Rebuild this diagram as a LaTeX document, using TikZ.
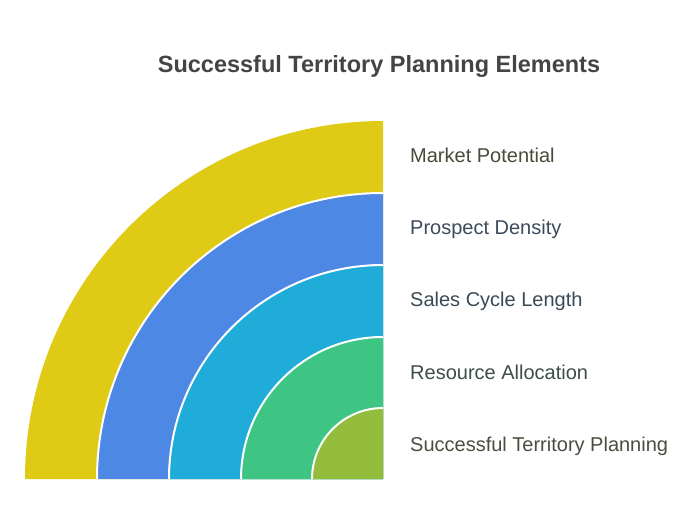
\documentclass[tikz,border=0pt]{standalone}
\usepackage{fontspec}
\setmainfont{Liberation Sans}
\usetikzlibrary{calc}
\definecolor{cYellow}{HTML}{DFCB16}
\definecolor{cBlue}{HTML}{4E88E5}
\definecolor{cCyan}{HTML}{1FACD9}
\definecolor{cGreen}{HTML}{3EC584}
\definecolor{cOlive}{HTML}{93BD3A}
\definecolor{tTitle}{HTML}{444444}
\definecolor{tA}{HTML}{4A4A3A}
\definecolor{tB}{HTML}{3D4A5C}
\definecolor{tC}{HTML}{3A4A55}
\definecolor{tD}{HTML}{3D4D48}
\definecolor{tE}{HTML}{4A4D40}
\tikzset{
  lbl/.style={anchor=base west, inner sep=0pt, font=\fontsize{20}{24}\selectfont},
  sep/.style={draw=white, line width=2pt}
}
\begin{document}
\begin{tikzpicture}[x=1pt,y=1pt]
\useasboundingbox (0,0) rectangle (696,528);
\coordinate (c) at (383,49);
\foreach \r/\col in {358/cYellow,286/cBlue,214/cCyan,142/cGreen,71/cOlive}{
  \fill[\col] (c) -- ++(-\r,0) arc[start angle=180,end angle=90,radius=\r] -- cycle;
}
\foreach \r in {286,214,142,71}{
  \draw[sep] ($(c)+(-\r,0)$) arc[start angle=180,end angle=90,radius=\r];
}
\node[font=\bfseries\fontsize{23.5}{28}\selectfont, text=tTitle] (title) at (379,462) {Successful Territory Planning Elements};
\node[lbl, text=tA] (l1) at (410,365) {Market Potential};
\node[lbl, text=tB] (l2) at (410,293) {Prospect Density};
\node[lbl, text=tC] (l3) at (410,221) {Sales Cycle Length};
\node[lbl, text=tD] (l4) at (410,149) {Resource Allocation};
\node[lbl, text=tE] (l5) at (410,77) {Successful Territory Planning};
\end{tikzpicture}
\end{document}
